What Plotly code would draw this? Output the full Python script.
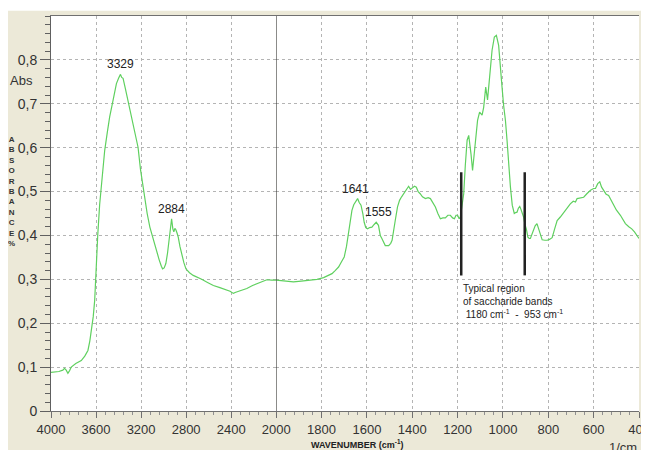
import plotly.graph_objects as go

# ---------------- data ----------------
wavenumber = [
    4000, 3960, 3930, 3895, 3880, 3865, 3850, 3835, 3820, 3780, 3731, 3700, 3672, 3655, 3642,
    3625, 3612, 3597, 3585, 3568, 3545, 3523, 3500, 3479, 3449, 3419, 3400, 3390, 3383, 3372,
    3360, 3340, 3316, 3290, 3271, 3250, 3227, 3205, 3187, 3170, 3146, 3122, 3098, 3080, 3063,
    3040, 3020, 3009, 2995, 2980, 2965, 2950, 2940, 2929, 2918, 2909, 2900, 2891, 2880, 2870,
    2855, 2840, 2820, 2802, 2770, 2737, 2700, 2662, 2610, 2558, 2500, 2454, 2410, 2380, 2365,
    2320, 2261, 2210, 2158, 2120, 2083, 2040, 2000,
    1960, 1924, 1890, 1850, 1820, 1791, 1770, 1754, 1740, 1725, 1712, 1700, 1690, 1681, 1673,
    1666, 1658, 1651, 1641, 1634, 1626, 1618, 1612, 1605, 1597, 1588, 1578, 1568, 1559, 1549,
    1541, 1534, 1526, 1519, 1504, 1495, 1489, 1481, 1475, 1465, 1456, 1447, 1438, 1427, 1416,
    1408, 1401, 1390, 1382, 1374, 1365, 1355, 1342, 1330, 1320, 1310, 1298, 1287, 1276, 1265,
    1254, 1243, 1232, 1222, 1214, 1207, 1200, 1193, 1188, 1180, 1173, 1166, 1158, 1151, 1146,
    1141, 1134, 1125, 1112, 1103, 1097, 1092, 1085, 1076, 1068, 1059, 1048, 1038, 1029, 1019,
    1011, 1004, 997, 989, 982, 975, 967, 959, 950, 944, 938, 932, 926, 921, 916, 909,
    903, 897, 890, 884, 879, 872, 865, 858, 850, 844, 838, 827, 815, 805, 795, 783,
    772, 761, 747, 735, 725, 715, 703, 690, 680, 673, 660, 644, 630, 614, 600, 592,
    582, 573, 565, 556, 545, 534, 520, 511, 500, 482, 470, 460, 445, 432, 420, 410, 402, 400,
]
absorbance = [
    0.088, 0.089, 0.090, 0.093, 0.097, 0.093, 0.086, 0.092, 0.100, 0.108, 0.115, 0.125, 0.138, 0.160, 0.184,
    0.215, 0.252, 0.359, 0.400, 0.470, 0.540, 0.594, 0.635, 0.670, 0.708, 0.746, 0.758, 0.763, 0.767, 0.760,
    0.758, 0.735, 0.708, 0.678, 0.655, 0.630, 0.601, 0.550, 0.520, 0.484, 0.450, 0.419, 0.396, 0.380, 0.366,
    0.345, 0.330, 0.324, 0.326, 0.336, 0.360, 0.396, 0.420, 0.438, 0.415, 0.408, 0.416, 0.413, 0.405, 0.396,
    0.375, 0.358, 0.338, 0.324, 0.315, 0.309, 0.305, 0.300, 0.293, 0.286, 0.281, 0.277, 0.273, 0.268, 0.270,
    0.274, 0.279, 0.286, 0.292, 0.296, 0.299, 0.298, 0.298,
    0.296, 0.294, 0.296, 0.298, 0.300, 0.304, 0.309, 0.313, 0.320, 0.328, 0.340, 0.351, 0.375, 0.404, 0.430,
    0.457, 0.470, 0.476, 0.484, 0.475, 0.469, 0.450, 0.430, 0.418, 0.415, 0.418, 0.419, 0.425, 0.430, 0.423,
    0.400, 0.393, 0.382, 0.377, 0.377, 0.382, 0.389, 0.410, 0.434, 0.465, 0.480, 0.488, 0.495, 0.505, 0.512,
    0.505, 0.507, 0.512, 0.510, 0.500, 0.495, 0.488, 0.484, 0.486, 0.484, 0.475, 0.465, 0.450, 0.438, 0.440,
    0.440, 0.446, 0.446, 0.440, 0.438, 0.446, 0.446, 0.438, 0.442, 0.470, 0.495, 0.560, 0.617, 0.628, 0.610,
    0.586, 0.548, 0.601, 0.662, 0.681, 0.676, 0.674, 0.692, 0.738, 0.709, 0.769, 0.822, 0.852, 0.856, 0.833,
    0.791, 0.738, 0.696, 0.662, 0.617, 0.564, 0.510, 0.469, 0.450, 0.452, 0.453, 0.462, 0.466, 0.460, 0.453, 0.442,
    0.425, 0.415, 0.396, 0.393, 0.393, 0.402, 0.412, 0.422, 0.427, 0.418, 0.408, 0.390, 0.389, 0.389, 0.391, 0.395,
    0.415, 0.434, 0.442, 0.450, 0.457, 0.466, 0.472, 0.478, 0.476, 0.484, 0.485, 0.487, 0.495, 0.503, 0.507, 0.507,
    0.518, 0.522, 0.510, 0.503, 0.494, 0.491, 0.478, 0.469, 0.458, 0.446, 0.434, 0.427, 0.420, 0.415, 0.408, 0.400, 0.395, 0.393,
]

x_ticks_left = [4000, 3600, 3200, 2800, 2400]
x_tick_labels_left = ["4000", "3600", "3200", "2800", "2400"]
x_ticks_right = [2000, 1800, 1600, 1400, 1200, 1000, 800, 600, 400]
x_tick_labels_right = ["2000", "1800", "1600", "1400", "1200", "1000", "800", "600", "400"]
y_ticks = [0, 0.1, 0.2, 0.3, 0.4, 0.5, 0.6, 0.7, 0.8]
y_tick_labels = ["0", "0,1", "0,2", "0,3", "0,4", "0,5", "0,6", "0,7", "0,8"]

peak_labels = ["3329", "2884", "1641", "1555"]
peak_x = [3383, 2929, 1651, 1549]
peak_y = [0.767, 0.438, 0.484, 0.430]

band_marks = [1184, 904]
band_low, band_high = 0.309, 0.544

# ---------------- figure ----------------
GREEN = "rgb(95,208,95)"
FONT = "Liberation Sans, Arial, sans-serif"
SPLIT = 0.383

left_x = [w for w in wavenumber if w >= 2000]
left_y = [a for w, a in zip(wavenumber, absorbance) if w >= 2000]
right_x = [w for w in wavenumber if w <= 2000]
right_y = [a for w, a in zip(wavenumber, absorbance) if w <= 2000]

fig = go.Figure()
fig.add_trace(go.Scatter(x=left_x, y=left_y, xaxis="x", yaxis="y", mode="lines",
                         line=dict(color=GREEN, width=1.2), showlegend=False, hoverinfo="skip"))
fig.add_trace(go.Scatter(x=right_x, y=right_y, xaxis="x2", yaxis="y", mode="lines",
                         line=dict(color=GREEN, width=1.2), showlegend=False, hoverinfo="skip"))

grid = dict(showgrid=True, gridcolor="#b4b4b4", griddash="dot", gridwidth=1)
xcommon = dict(showline=True, linecolor="#707070", linewidth=1, mirror=True, zeroline=False,
               automargin=False, ticks="outside", ticklen=6, tickcolor="#707070",
               tickfont=dict(size=13, color="#333333", family=FONT), **grid)

# the page body adds an 8 px white border at the left and top
fig.update_layout(
    template="none",
    width=653, height=442,
    margin=dict(l=43, r=22, t=8, b=39, autoexpand=False),
    paper_bgcolor="#ECE9D8",
    plot_bgcolor="white",
    font=dict(family=FONT, color="#333333"),
    xaxis=dict(domain=[0, SPLIT], range=[4000, 2000], anchor="y",
               tickmode="array", tickvals=x_ticks_left, ticktext=x_tick_labels_left,
               minor=dict(dtick=80, ticklen=3, ticks="outside", tickcolor="#909090", showgrid=False),
               **xcommon),
    xaxis2=dict(domain=[SPLIT, 1], range=[2000, 400], anchor="y",
                tickmode="array", tickvals=x_ticks_right, ticktext=x_tick_labels_right,
                minor=dict(dtick=40, ticklen=3, ticks="outside", tickcolor="#909090", showgrid=False),
                **xcommon),
    yaxis=dict(range=[0, 0.9], anchor="x", tickmode="array", tickvals=y_ticks, ticktext=y_tick_labels,
               showline=True, linecolor="#606060", zeroline=False, automargin=False,
               ticks="outside", ticklen=10, tickcolor="#606060",
               tickfont=dict(size=14, color="#333333", family=FONT),
               minor=dict(dtick=0.02, ticklen=5, ticks="outside", tickcolor="#606060", showgrid=False),
               **grid),
)

shapes = [
    # thin white strip along the top of the panel
    dict(type="rect", xref="paper", yref="paper", x0=-0.1, x1=1.05, y0=1.013, y1=1.03,
         fillcolor="white", line=dict(width=0)),
    # solid line at 2000 (scale change)
    dict(type="line", xref="x2", yref="y domain", x0=2000, x1=2000, y0=0, y1=1,
         line=dict(color="#333333", width=1)),
]
for m in band_marks:
    shapes.append(dict(type="line", xref="x2", yref="y", x0=m, x1=m, y0=band_low, y1=band_high,
                       line=dict(color="#222222", width=2.5)))
fig.update_layout(shapes=shapes)

ann = []
for lab, px, py in zip(peak_labels, peak_x, peak_y):
    ann.append(dict(x=px, y=py, xref="x" if px > 2000 else "x2", yref="y", text=lab,
                    showarrow=False, xanchor="center", yanchor="bottom", yshift=1,
                    font=dict(size=12, color="#222222", family=FONT)))
ann.append(dict(x=band_marks[0], y=0.297, xref="x2", yref="y", xanchor="left", yanchor="top",
                align="left", showarrow=False,
                text="Typical region<br>of saccharide bands<br>&nbsp;1180 cm<sup>-1</sup>&nbsp;&nbsp;-&nbsp;&nbsp;953 cm<sup>-1</sup>",
                font=dict(size=10, color="#222222", family=FONT)))
ann.append(dict(x=-0.05, y=0.837, xref="paper", yref="paper", text="Abs", showarrow=False,
                xanchor="center", yanchor="middle", font=dict(size=13, color="#333333", family=FONT)))
ann.append(dict(x=-0.068, y=0.555, xref="paper", yref="paper",
                text="<b>" + "<br>".join(list("ABSORBANCE%")) + "</b>", showarrow=False,
                xanchor="center", yanchor="middle", align="center",
                font=dict(size=8, color="#333333", family=FONT)))
ann.append(dict(x=0.52, y=-0.083, xref="paper", yref="paper",
                text="<b>WAVENUMBER (cm<sup>-1</sup>)</b>", showarrow=False,
                xanchor="center", yanchor="middle", font=dict(size=9, color="#222222", family=FONT)))
ann.append(dict(x=1.0, y=-0.093, xref="paper", yref="paper", text="1/cm", showarrow=False,
                xanchor="right", yanchor="middle", font=dict(size=13, color="#333333", family=FONT)))
fig.update_layout(annotations=ann)

fig.write_html("out.html")
